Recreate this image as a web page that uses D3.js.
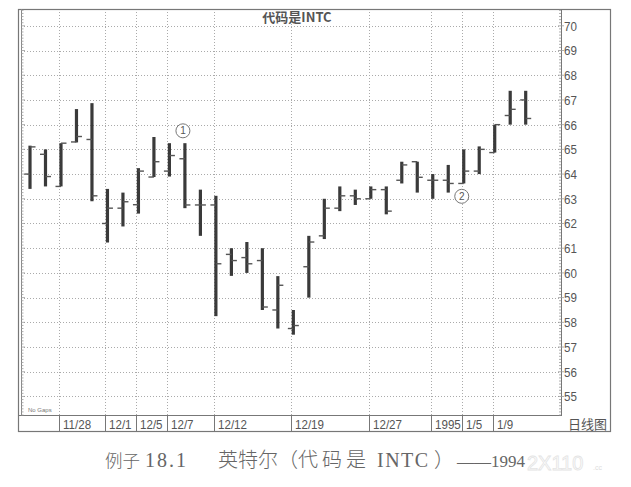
<!DOCTYPE html>
<html><head><meta charset="utf-8">
<script src="https://cdn.jsdelivr.net/npm/d3@7"></script>
<style>
body{margin:0;background:#fff;}
svg{display:block;}
</style></head>
<body>
<svg id="c" width="631" height="487"></svg>
<script>
const dates = ["11/23","11/25","11/28","11/29","11/30","12/1","12/2","12/5","12/6","12/7","12/8","12/9","12/12","12/13","12/14","12/15","12/16","12/19","12/20","12/21","12/22","12/23","12/27","12/28","12/29","12/30","1/3","1/4","1/5","1/6","1/9","1/10","1/11"];
const opens  = [64.0,64.8,63.5,65.3,65.4,62.0,62.62,62.76,63.88,64.12,64.62,62.75,62.75,60.75,60.62,60.5,58.5,57.75,60.25,61.5,62.62,63.12,63.0,63.37,63.75,64.5,63.75,63.75,63.62,64.12,64.87,66.37,67.0];
const highs  = [65.15,65.0,65.25,66.63,66.87,63.4,63.25,64.24,65.5,65.25,65.25,63.37,63.12,61.0,61.25,61.0,59.87,58.5,61.5,63.0,63.5,63.37,63.5,63.5,64.5,64.5,64.0,64.37,65.0,65.12,66.0,67.37,67.37];
const lows   = [63.4,63.5,63.5,65.28,62.9,61.23,61.88,62.4,63.88,63.9,62.62,61.5,58.25,59.88,60.0,58.5,57.75,57.5,59.0,61.37,62.5,62.75,63.0,62.37,63.62,63.25,63.0,63.25,63.62,64.0,64.87,66.0,66.0];
const closes = [65.1,63.9,65.25,65.52,63.12,62.62,62.88,64.12,64.5,64.75,62.75,62.75,60.37,60.5,60.37,58.62,59.5,57.87,61.25,62.62,63.12,63.0,63.37,62.5,64.37,63.87,63.75,63.62,64.12,65.0,66.0,66.62,66.25];
const gridDates  = ["11/28","12/1","12/5","12/7","12/12","12/19","12/27","1/3","1/5","1/9"];
const gridLabels = ["11/28","12/1","12/5","12/7","12/12","12/19","12/27","1995","1/5","1/9"];
const yTicks = [55,56,57,58,59,60,61,62,63,64,65,66,67,68,69,70];
const notes = [{date:"12/8", value:65.75, label:"1"},{date:"1/5", value:63.1, label:"2"}];
const title = "代码是INTC";
const captionParts = ["例子","18.1","英特尔（","代码是","INTC","）","——1994"];

const svg = d3.select("#c");
const L = 21, R = 561, T = 9, B = 415;
const x = d3.scalePoint().domain(dates).range([30, 525.7]);
const y = d3.scaleLinear().domain([54.25, 70.68]).range([B, T]);
const ink = "#555";
const sans = "'Liberation Sans',Arial,sans-serif";

// horizontal dotted grid
svg.append("g").selectAll("line").data(yTicks).join("line")
  .attr("x1", L).attr("x2", R)
  .attr("y1", d => Math.round(y(d)) + 0.5).attr("y2", d => Math.round(y(d)) + 0.5)
  .attr("stroke", "#aaa").attr("stroke-width", 1).attr("stroke-dasharray", "1,2");
// vertical dotted grid
svg.append("g").selectAll("line").data(gridDates).join("line")
  .attr("x1", d => Math.round(x(d)) - 1.5).attr("x2", d => Math.round(x(d)) - 1.5)
  .attr("y1", T).attr("y2", B)
  .attr("stroke", "#aaa").attr("stroke-width", 1).attr("stroke-dasharray", "1,2");

// frame
svg.append("rect").attr("x", 18.5).attr("y", 9.5).attr("width", 592).attr("height", 422)
  .attr("fill", "none").attr("stroke", "#777").attr("stroke-width", 1.2);
svg.append("line").attr("x1", L + 0.5).attr("x2", L + 0.5).attr("y1", T).attr("y2", B).attr("stroke", "#888");
svg.append("line").attr("x1", R + 0.5).attr("x2", R + 0.5).attr("y1", T).attr("y2", B).attr("stroke", "#777");
svg.append("line").attr("x1", 18).attr("x2", R + 1).attr("y1", B + 0.5).attr("y2", B + 0.5).attr("stroke", "#777");

// minor ticks every 1/8
const minor = d3.range(Math.ceil(54.25 * 8), Math.floor(70.68 * 8) + 1).map(v => v / 8);
svg.append("g").selectAll("line").data(minor).join("line")
  .attr("x1", L).attr("x2", d => L + (Number.isInteger(d) ? 4 : 2.5))
  .attr("y1", d => y(d)).attr("y2", d => y(d)).attr("stroke", "#999").attr("stroke-width", 0.8);
svg.append("g").selectAll("line").data(minor).join("line")
  .attr("x1", d => R - (Number.isInteger(d) ? 3 : 2)).attr("x2", d => R + (Number.isInteger(d) ? 3 : 0))
  .attr("y1", d => y(d)).attr("y2", d => y(d)).attr("stroke", "#999").attr("stroke-width", 0.8);

// y labels (condensed)
svg.append("g").selectAll("text").data(yTicks).join("text")
  .attr("transform", d => `translate(${R + 3},${y(d)}) scale(0.86,1)`)
  .attr("dy", "0.36em")
  .attr("font-family", sans).attr("font-size", 13.5).attr("fill", ink).text(d => d);

// date strip
svg.append("g").selectAll("line").data(gridDates).join("line")
  .attr("x1", d => Math.round(x(d)) - 1.5).attr("x2", d => Math.round(x(d)) - 1.5)
  .attr("y1", B).attr("y2", 432).attr("stroke", "#777");
svg.append("g").selectAll("text").data(gridDates).join("text")
  .attr("transform", d => `translate(${Math.round(x(d)) + 2},428.5) scale(0.86,1)`)
  .attr("font-family", sans).attr("font-size", 13.5).attr("fill", ink)
  .text((d, i) => gridLabels[i]);
svg.append("text").attr("x", 607).attr("y", 429).attr("text-anchor", "end")
  .attr("font-family", "'Noto Sans CJK SC',sans-serif").attr("font-size", 13).attr("fill", ink).text("日线图");
svg.append("text").attr("x", 28).attr("y", 412).attr("font-family", sans)
  .attr("font-size", 6).attr("fill", "#777").text("No Gaps");

// OHLC bars
const g = svg.append("g");
g.selectAll("line.hl").data(dates).join("line").attr("class", "hl")
  .attr("x1", d => x(d)).attr("x2", d => x(d))
  .attr("y1", (d, i) => y(highs[i])).attr("y2", (d, i) => y(lows[i]))
  .attr("stroke", "#3a3a3a").attr("stroke-width", 3.2);
g.selectAll("line.o").data(dates).join("line").attr("class", "o")
  .attr("x1", d => x(d) - 5.5).attr("x2", d => x(d))
  .attr("y1", (d, i) => y(opens[i])).attr("y2", (d, i) => y(opens[i]))
  .attr("stroke", "#555").attr("stroke-width", 1.4);
g.selectAll("line.c").data(dates).join("line").attr("class", "c")
  .attr("x1", d => x(d)).attr("x2", d => x(d) + 5.5)
  .attr("y1", (d, i) => y(closes[i])).attr("y2", (d, i) => y(closes[i]))
  .attr("stroke", "#555").attr("stroke-width", 1.4);

// annotations
const n = svg.append("g").selectAll("g").data(notes).join("g")
  .attr("transform", d => `translate(${x(d.date) - 2},${y(d.value)})`);
n.append("circle").attr("r", 7).attr("fill", "#fff").attr("stroke", "#777").attr("stroke-width", 1);
n.append("text").attr("text-anchor", "middle").attr("dy", "0.36em")
  .attr("font-family", sans).attr("font-size", 10).attr("fill", "#555").text(d => d.label);

// title
svg.append("text").attr("x", 297).attr("y", 22).attr("text-anchor", "middle")
  .attr("font-family", "'Noto Sans CJK SC',sans-serif").attr("font-size", 13).attr("font-weight", "bold")
  .attr("fill", "#555").text(title);

// caption, laid out in segments: [x start, font size, letter spacing, latin?]
const capLayout = [[105,17.5,0,false],[145,20,2,true],[218,20,0,false],[298,20,4,false],[377,20,1.5,true],[434,20,0,false],[457,17,0,true]];
svg.append("g").selectAll("text").data(captionParts).join("text")
  .attr("x", (d, i) => capLayout[i][0]).attr("y", 467)
  .attr("font-size", (d, i) => capLayout[i][1])
  .attr("letter-spacing", (d, i) => capLayout[i][2])
  .attr("font-family", (d, i) => capLayout[i][3] ? "'Liberation Serif',serif" : "'Noto Sans CJK SC',sans-serif")
  .attr("font-weight", (d, i) => capLayout[i][3] ? 400 : 300)
  .attr("fill", "#666").text(d => d);
svg.append("text").attr("x", 527).attr("y", 470)
  .attr("font-family", sans).attr("font-size", 20)
  .attr("fill", "none").attr("stroke", "#e4e4e4").attr("stroke-width", 0.8).text("2X110");
svg.append("text").attr("x", 593).attr("y", 470)
  .attr("font-family", sans).attr("font-size", 7)
  .attr("fill", "#ddd").text(".cc");
</script>
</body></html>
